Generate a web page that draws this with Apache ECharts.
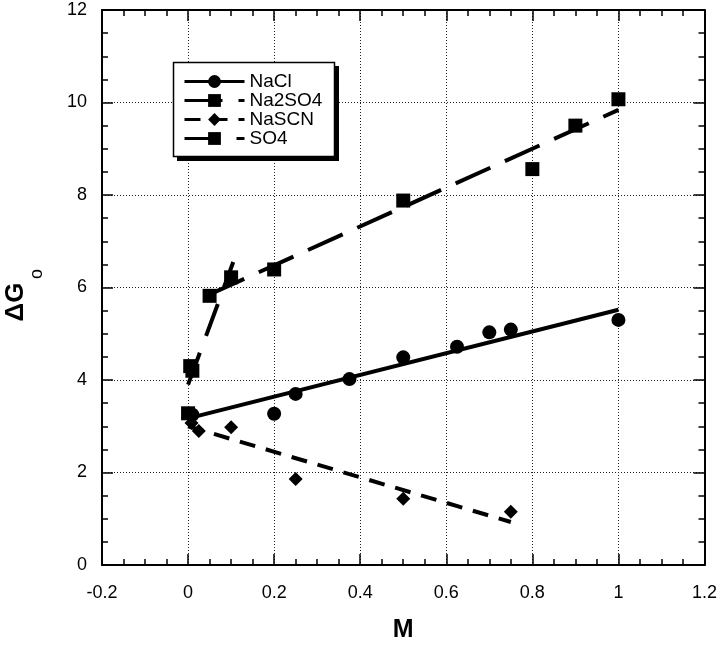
<!DOCTYPE html>
<html>
<head>
<meta charset="utf-8">
<script src="https://cdn.jsdelivr.net/npm/echarts@6/dist/echarts.min.js"></script>
<style>
  html, body { margin: 0; padding: 0; background: #fff; }
  #chart { width: 720px; height: 648px; }
</style>
</head>
<body>
<div id="chart"></div>
<script>
// ---- data ----
const seriesNames = ['NaCl', 'Na2SO4', 'NaSCN', 'SO4'];

const naclX = [0.01, 0.2, 0.25, 0.375, 0.5, 0.625, 0.7, 0.75, 1.0];
const naclY = [3.25, 3.27, 3.70, 4.02, 4.49, 4.72, 5.03, 5.09, 5.30];

const na2so4X = [0, 0.2, 0.5, 0.8, 0.9, 1.0];
const na2so4Y = [3.28, 6.39, 7.88, 8.56, 9.50, 10.07];

const nascnX = [0.008, 0.025, 0.1, 0.25, 0.5, 0.75];
const nascnY = [3.07, 2.90, 2.98, 1.86, 1.43, 1.15];

const so4X = [0.005, 0.01, 0.05, 0.1];
const so4Y = [4.30, 4.20, 5.82, 6.22];

// fitted lines (end points)
const naclFitX = [0, 1.0];
const naclFitY = [3.17, 5.52];
const na2so4FitX = [0.05, 1.0];
const na2so4FitY = [5.85, 9.84];
const nascnFitX = [0, 0.75];
const nascnFitY = [3.00, 0.93];
const so4FitX = [0, 0.105];
const so4FitY = [3.90, 6.55];

// tick labels
const xTicks = [-0.2, 0, 0.2, 0.4, 0.6, 0.8, 1, 1.2];
const yTicks = [0, 2, 4, 6, 8, 10, 12];

const xTitle = 'M';
const yTitle = 'ΔG';
const ySub = 'o';

// ---- helpers ----
const zip = (xs, ys) => xs.map((x, i) => [x, ys[i]]);
const FONT = "'Liberation Sans', Arial, Helvetica, sans-serif";

const chart = echarts.init(document.getElementById('chart'), null, { renderer: 'canvas' });

const xMin = xTicks[0], xMax = xTicks[xTicks.length - 1], xInt = xTicks[1] - xTicks[0];
const yMin = yTicks[0], yMax = yTicks[yTicks.length - 1], yInt = yTicks[1] - yTicks[0];

const baseAxis = {
  axisLine: { show: true, onZero: false, lineStyle: { color: '#000', width: 2 } },
  axisTick: { show: true, inside: true, length: 11, lineStyle: { color: '#000', width: 1.5 } },
  minorTick: { show: true, splitNumber: 4, length: 6, lineStyle: { color: '#000', width: 1.5 } },
};

function fitSeries(name, xs, ys, symbol, lineStyle) {
  return {
    name, type: 'line', data: zip(xs, ys),
    symbol, symbolSize: 13, showSymbol: false,
    itemStyle: { color: '#000' },
    lineStyle: Object.assign({ color: '#000', width: 4, cap: 'butt' }, lineStyle),
    silent: true, z: 2
  };
}
function pointSeries(name, xs, ys, symbol, size) {
  return {
    name, type: 'scatter', data: zip(xs, ys),
    symbol, symbolSize: size,
    itemStyle: { color: '#000', opacity: 1 },
    z: 3
  };
}

const option = {
  animation: false,
  backgroundColor: '#fff',
  textStyle: { fontFamily: FONT },
  grid: { left: 102, right: 14, top: 10, bottom: 77 },
  legend: {
    data: seriesNames,
    orient: 'vertical',
    left: 173, top: 62,
    padding: [10, 8, 9, 10],
    itemWidth: 60, itemHeight: 16, itemGap: 0,
    align: 'left',
    lineStyle: { width: 3 },
    textStyle: { fontFamily: FONT, fontSize: 19, lineHeight: 19, color: '#000' },
    selectedMode: false,
    z: 10
  },
  xAxis: [
    Object.assign({}, baseAxis, {
      type: 'value', min: xMin, max: xMax, interval: xInt, position: 'bottom',
      axisLabel: { color: '#000', fontSize: 18, fontFamily: FONT, margin: 19 },
      splitLine: { show: true, lineStyle: { color: '#222', width: 1, type: [1, 2] } },
      name: xTitle, nameLocation: 'middle', nameGap: 53,
      nameTextStyle: { color: '#000', fontSize: 25, fontWeight: 'bold', fontFamily: FONT }
    }),
    Object.assign({}, baseAxis, {
      type: 'value', min: xMin, max: xMax, interval: xInt, position: 'top',
      axisLabel: { show: false }, splitLine: { show: false }
    })
  ],
  yAxis: [
    Object.assign({}, baseAxis, {
      type: 'value', min: yMin, max: yMax, interval: yInt, position: 'left',
      axisLabel: { color: '#000', fontSize: 18, fontFamily: FONT, margin: 15 },
      splitLine: { show: true, lineStyle: { color: '#222', width: 1, type: [1, 2] } }
    }),
    Object.assign({}, baseAxis, {
      type: 'value', min: yMin, max: yMax, interval: yInt, position: 'right',
      axisLabel: { show: false }, splitLine: { show: false }
    })
  ],
  graphic: [
    {
      type: 'rect', z: 8, silent: true,
      shape: { x: 177, y: 66, width: 162, height: 95 },
      style: { fill: '#000' }
    },
    {
      type: 'rect', z: 9, silent: true,
      shape: { x: 173.5, y: 62.5, width: 161, height: 94 },
      style: { fill: '#fff', stroke: '#000', lineWidth: 1.5 }
    },
    {
      type: 'text', x: 16, y: 302, rotation: Math.PI / 2,
      style: { text: yTitle, font: 'bold 26px ' + FONT, fill: '#000', align: 'center', verticalAlign: 'middle' }
    },
    {
      type: 'text', x: 37, y: 274, rotation: Math.PI / 2,
      style: { text: ySub, font: '18px ' + FONT, fill: '#000', align: 'center', verticalAlign: 'middle' }
    }
  ],
  series: [
    fitSeries('NaCl', naclFitX, naclFitY, 'circle', { type: 'solid' }),
    fitSeries('Na2SO4', na2so4FitX, na2so4FitY, 'rect', { type: [38, 16] }),
    fitSeries('NaSCN', nascnFitX, nascnFitY, 'diamond', { type: [16, 11] }),
    fitSeries('SO4', so4FitX, so4FitY, 'rect', { type: [34, 18] }),
    pointSeries('NaCl', naclX, naclY, 'circle', 14),
    pointSeries('Na2SO4', na2so4X, na2so4Y, 'rect', 14),
    pointSeries('NaSCN', nascnX, nascnY, 'diamond', 14),
    pointSeries('SO4', so4X, so4Y, 'rect', 14)
  ]
};

chart.setOption(option);
</script>
</body>
</html>
